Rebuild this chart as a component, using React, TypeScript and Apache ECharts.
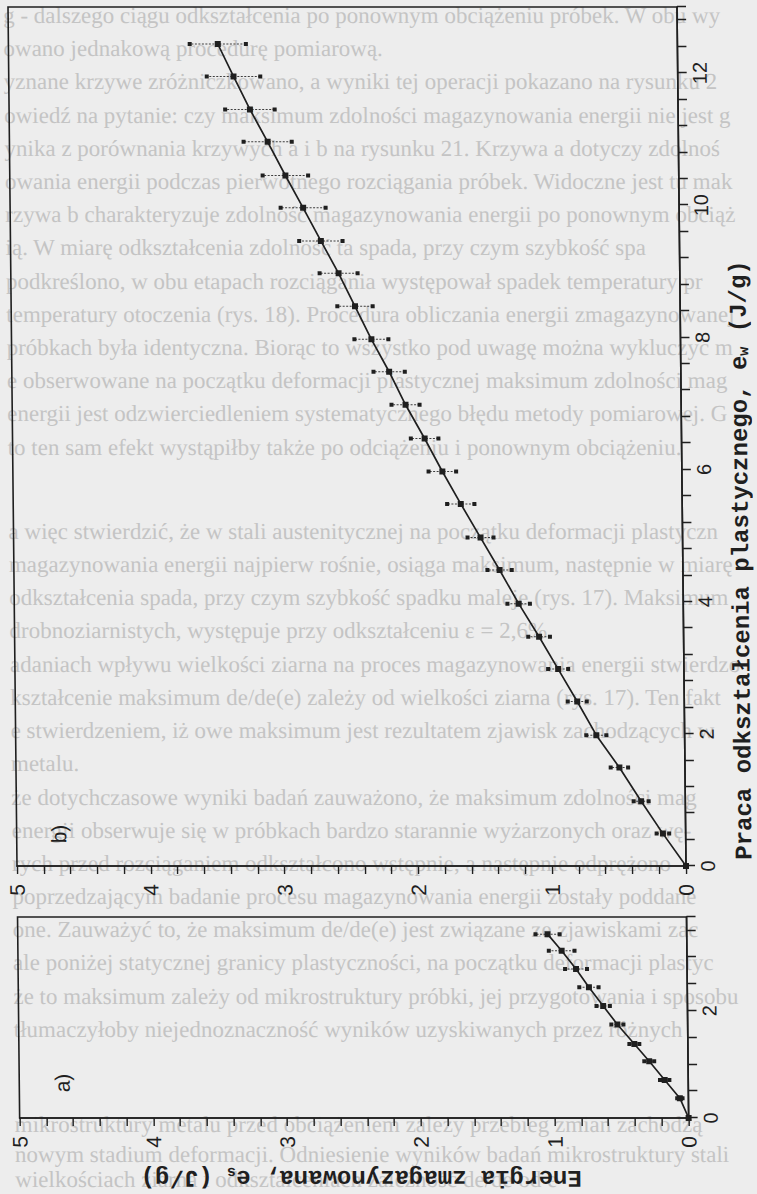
import React, { useEffect, useRef } from "react";
import * as echarts from "echarts";

const INK = "#1f1f1f";
const PAPER = "#ededed";
const SHOW_THROUGH = "#c4c4c4";
const MONO = "'Liberation Mono', 'DejaVu Sans Mono', monospace";
const SANS = "'Liberation Sans', Arial, sans-serif";
const SERIF = "'Liberation Serif', 'DejaVu Serif', serif";

// a) stored energy e_s against plastic work e_w, first loading (J/g)
const workA = [0, 0.37, 0.71, 1.06, 1.38, 1.745, 2.09, 2.44, 2.78, 3.12, 3.43];
const storedA = [0, 0.064, 0.176, 0.29, 0.4, 0.525, 0.63, 0.735, 0.83, 0.936, 1.04];
const errA = [0, 0.02, 0.035, 0.037, 0.037, 0.045, 0.05, 0.072, 0.082, 0.096, 0.09];

// b) stored energy e_s against plastic work e_w, full range (J/g)
const workB = [
  0, 0.49, 0.98, 1.49, 1.98, 2.49, 2.98, 3.47, 3.97, 4.48, 4.97, 5.48, 5.97,
  6.47, 6.98, 7.48, 7.97, 8.47, 8.97, 9.46, 9.96, 10.45, 10.96, 11.45, 11.95, 12.44,
];
const storedB = [
  0, 0.17, 0.33, 0.49, 0.66, 0.8, 0.94, 1.08, 1.23, 1.37, 1.51, 1.655, 1.79,
  1.92, 2.06, 2.18, 2.31, 2.43, 2.55, 2.68, 2.81, 2.94, 3.07, 3.2, 3.32, 3.435,
];
const errB = [
  0, 0.047, 0.056, 0.065, 0.075, 0.071, 0.075, 0.081, 0.084, 0.091, 0.097, 0.102,
  0.103, 0.103, 0.105, 0.117, 0.127, 0.132, 0.142, 0.162, 0.168, 0.17, 0.18, 0.185,
  0.2, 0.21,
];

// tick labels
const workLabelsA = [0, 2];
const workLabelsB = [0, 2, 4, 6, 8, 10, 12];
const energyLabels = [0, 1, 2, 3, 4, 5];

// text of the page printed behind the figure: [line position from top, text]
const pageLines: [number, string][] = [
  [16, "g - dalszego ciągu odkształcenia po ponownym obciążeniu próbek. W obu wy"],
  [49, "owano jednakową procedurę pomiarową."],
  [82, "yznane krzywe zróżniczkowano, a wyniki tej operacji pokazano na rysunku 2"],
  [116, "owiedź na pytanie: czy maksimum zdolności magazynowania energii nie jest g"],
  [149, "ynika z porównania krzywych a i b na rysunku 21. Krzywa a dotyczy zdolności"],
  [182, "owania energii podczas pierwotnego rozciągania próbek. Widoczne jest tu mak"],
  [215, "rzywa b charakteryzuje zdolność magazynowania energii po ponownym obciąż"],
  [248, "ią. W miarę odkształcenia zdolność ta spada, przy czym szybkość spadania male"],
  [282, "podkreślono, w obu etapach rozciągania występował spadek temperatury pr"],
  [315, "temperatury otoczenia (rys. 18). Procedura obliczania energii zmagazynowanej"],
  [348, "próbkach była identyczna. Biorąc to wszystko pod uwagę można wykluczyć m"],
  [381, "e obserwowane na początku deformacji plastycznej maksimum zdolności mag"],
  [414, "energii jest odzwierciedleniem systematycznego błędu metody pomiarowej. G"],
  [448, "to ten sam efekt wystąpiłby także po odciążeniu i ponownym obciążeniu."],
  [532, "a więc stwierdzić, że w stali austenitycznej na początku deformacji plastyczn"],
  [565, "magazynowania energii najpierw rośnie, osiąga maksimum, następnie w miarę"],
  [598, "odkształcenia spada, przy czym szybkość spadku maleje (rys. 17). Maksimum"],
  [631, "drobnoziarnistych, występuje przy odkształceniu ε = 2,6%."],
  [665, "adaniach wpływu wielkości ziarna na proces magazynowania energii stwierdzo"],
  [698, "kształcenie maksimum de/de(e) zależy od wielkości ziarna (rys. 17). Ten fakt"],
  [731, "e stwierdzeniem, iż owe maksimum jest rezultatem zjawisk zachodzących w defor"],
  [764, "metalu."],
  [798, "że dotychczasowe wyniki badań zauważono, że maksimum zdolności mag"],
  [831, "energii obserwuje się w próbkach bardzo starannie wyżarzonych oraz wę-"],
  [864, "rych przed rozciąganiem odkształcono wstępnie, a następnie odprężono"],
  [897, "poprzedzającym badanie procesu magazynowania energii zostały poddane"],
  [930, "one. Zauważyć to, że maksimum de/de(e) jest związane ze zjawiskami zachodzący"],
  [963, "ale poniżej statycznej granicy plastyczności, na początku deformacji plastycznej"],
  [997, "że to maksimum zależy od mikrostruktury próbki, jej przygotowania i sposobu"],
  [1030, "tłumaczyłoby niejednoznaczność wyników uzyskiwanych przez różnych"],
  [1125, "mikrostruktury metalu przed obciążeniem zależy przebieg zmian zachodzących"],
  [1155, "nowym stadium deformacji. Odniesienie wyników badań mikrostruktury stali do"],
  [1180, "wielkościach ziarna i odkształceniach zależność de/de od e"],
];

const labelIf = (list: number[]) => (v: number) => {
  const r = Math.round(v);
  return Math.abs(v - r) < 1e-6 && list.includes(r) ? String(r) : "";
};

const workAxis = (gridIndex: number, max: number, interval: number, labels: number[]) => ({
  type: "value",
  gridIndex,
  min: 0,
  max,
  interval,
  axisLine: { show: true, onZero: false, lineStyle: { color: INK, width: 1.6 } },
  axisTick: { show: true, inside: false, length: 9, lineStyle: { color: INK, width: 1.4 } },
  axisLabel: {
    show: true,
    margin: 12,
    color: INK,
    fontFamily: SANS,
    fontSize: 20,
    formatter: labelIf(labels),
    hideOverlap: false,
  },
  splitLine: { show: false },
});

const energyAxis = (gridIndex: number) => ({
  type: "value",
  gridIndex,
  min: 0,
  max: 5,
  interval: 0.2,
  axisLine: { show: true, onZero: false, lineStyle: { color: INK, width: 1.6 } },
  axisTick: { show: true, inside: false, length: 8, lineStyle: { color: INK, width: 1.4 } },
  axisLabel: {
    show: true,
    margin: 18,
    color: INK,
    fontFamily: SANS,
    fontSize: 21,
    formatter: labelIf(energyLabels),
    hideOverlap: false,
  },
  splitLine: { show: false },
});

const errorBars = (_params: any, api: any) => {
  const w = api.value(0);
  const s = api.value(1);
  const e = api.value(2);
  const lo = api.coord([w, s - e]);
  const hi = api.coord([w, s + e]);
  const h = 2;
  return {
    type: "group",
    children: [
      {
        type: "line",
        shape: { x1: lo[0], y1: lo[1], x2: hi[0], y2: hi[1] },
        style: { stroke: INK, lineWidth: 1, lineDash: [2, 1.5], opacity: 0.85 },
      },
      { type: "rect", shape: { x: lo[0] - h, y: lo[1] - h, width: 2 * h, height: 2 * h }, style: { fill: INK } },
      { type: "rect", shape: { x: hi[0] - h, y: hi[1] - h, width: 2 * h, height: 2 * h }, style: { fill: INK } },
    ],
  };
};

const curve = (idx: number, work: number[], stored: number[]) => ({
  type: "line",
  xAxisIndex: idx,
  yAxisIndex: idx,
  data: work.map((w, i) => [w, stored[i]]),
  symbol: "rect",
  symbolSize: 6,
  showAllSymbol: true,
  lineStyle: { color: INK, width: 1.7 },
  itemStyle: { color: INK },
  z: 4,
  clip: false,
  silent: true,
});

const bars = (idx: number, work: number[], stored: number[], err: number[]) => ({
  type: "custom",
  xAxisIndex: idx,
  yAxisIndex: idx,
  data: work.map((w, i) => [w, stored[i], err[i]]).filter((d) => d[2] > 0),
  encode: { x: 0, y: 1 },
  renderItem: errorBars,
  z: 3,
  clip: false,
  silent: true,
});

// chart is laid out as a landscape figure (1194 x 757) and turned a quarter turn
const W = 1194;

export default function App() {
  const ref = useRef<HTMLDivElement>(null);

  useEffect(() => {
    document.body.style.margin = "0";
    document.body.style.background = PAPER;
    const chart = echarts.init(ref.current!, null, { renderer: "svg" });

    const backdrop = pageLines.map(([pos, t]) => ({
      type: "text",
      x: W - pos,
      y: 12,
      rotation: -Math.PI / 2,
      silent: true,
      z: -10,
      style: {
        text: t,
        font: `23px ${SERIF}`,
        fill: SHOW_THROUGH,
        width: 732,
        overflow: "truncate",
        ellipsis: "",
        align: "left",
        textAlign: "left",
        verticalAlign: "middle",
        textVerticalAlign: "middle",
      },
    }));

    const nameStyle = {
      fontSize: 24,
      fontWeight: "bold",
      fontFamily: MONO,
      fill: INK,
      align: "center",
      textAlign: "center",
      verticalAlign: "middle",
      textVerticalAlign: "middle",
      rich: {
        sub: { fontSize: 15, fontWeight: "bold", fontFamily: MONO, fill: INK, padding: [10, 0, 0, 0] },
      },
    };

    const panelTag = (text: string, x: number, y: number) => ({
      type: "text",
      x,
      y,
      style: {
        text,
        font: `21px ${SANS}`,
        fill: INK,
        align: "center",
        textAlign: "center",
        verticalAlign: "middle",
        textVerticalAlign: "middle",
      },
    });

    chart.setOption({
      animation: false,
      backgroundColor: "transparent",
      grid: [
        { left: 76, right: 917, top: 17, bottom: 71, show: true, borderColor: INK, borderWidth: 1.6, outerBoundsMode: "none" },
        { left: 328, right: 7, top: 17, bottom: 71, show: true, borderColor: INK, borderWidth: 1.6, outerBoundsMode: "none" },
      ],
      xAxis: [workAxis(0, 3.75, 0.5, workLabelsA), workAxis(1, 13, 0.4, workLabelsB)],
      yAxis: [energyAxis(0), energyAxis(1)],
      series: [
        bars(0, workA, storedA, errA),
        curve(0, workA, storedA),
        bars(1, workB, storedB, errB),
        curve(1, workB, storedB),
      ],
      graphic: [
        ...backdrop,
        panelTag("a)", 111, 60),
        panelTag("b)", 360, 59),
        {
          type: "text",
          x: 634,
          y: 745,
          style: { ...nameStyle, text: "Praca odkształcenia plastycznego, e{sub|w} (J/g)" },
        },
        {
          type: "text",
          x: 17,
          y: 358,
          rotation: Math.PI / 2,
          style: { ...nameStyle, text: "Energia zmagazynowana, e{sub|s} (J/g)" },
        },
      ],
    });

    return () => chart.dispose();
  }, []);

  return (
    <div style={{ width: 757, height: 1194, position: "relative", overflow: "hidden", background: PAPER }}>
      <div
        style={{
          position: "absolute",
          left: 0,
          top: 0,
          width: 757,
          height: 1194,
          transform: "skewX(0.6deg)",
          transformOrigin: "0 866px",
        }}
      >
        <div
          ref={ref}
          style={{
            position: "absolute",
            left: 0,
            top: 0,
            width: W,
            height: 757,
            transformOrigin: "0 0",
            transform: `translate(0px, ${W}px) rotate(-90deg)`,
          }}
        />
      </div>
    </div>
  );
}
